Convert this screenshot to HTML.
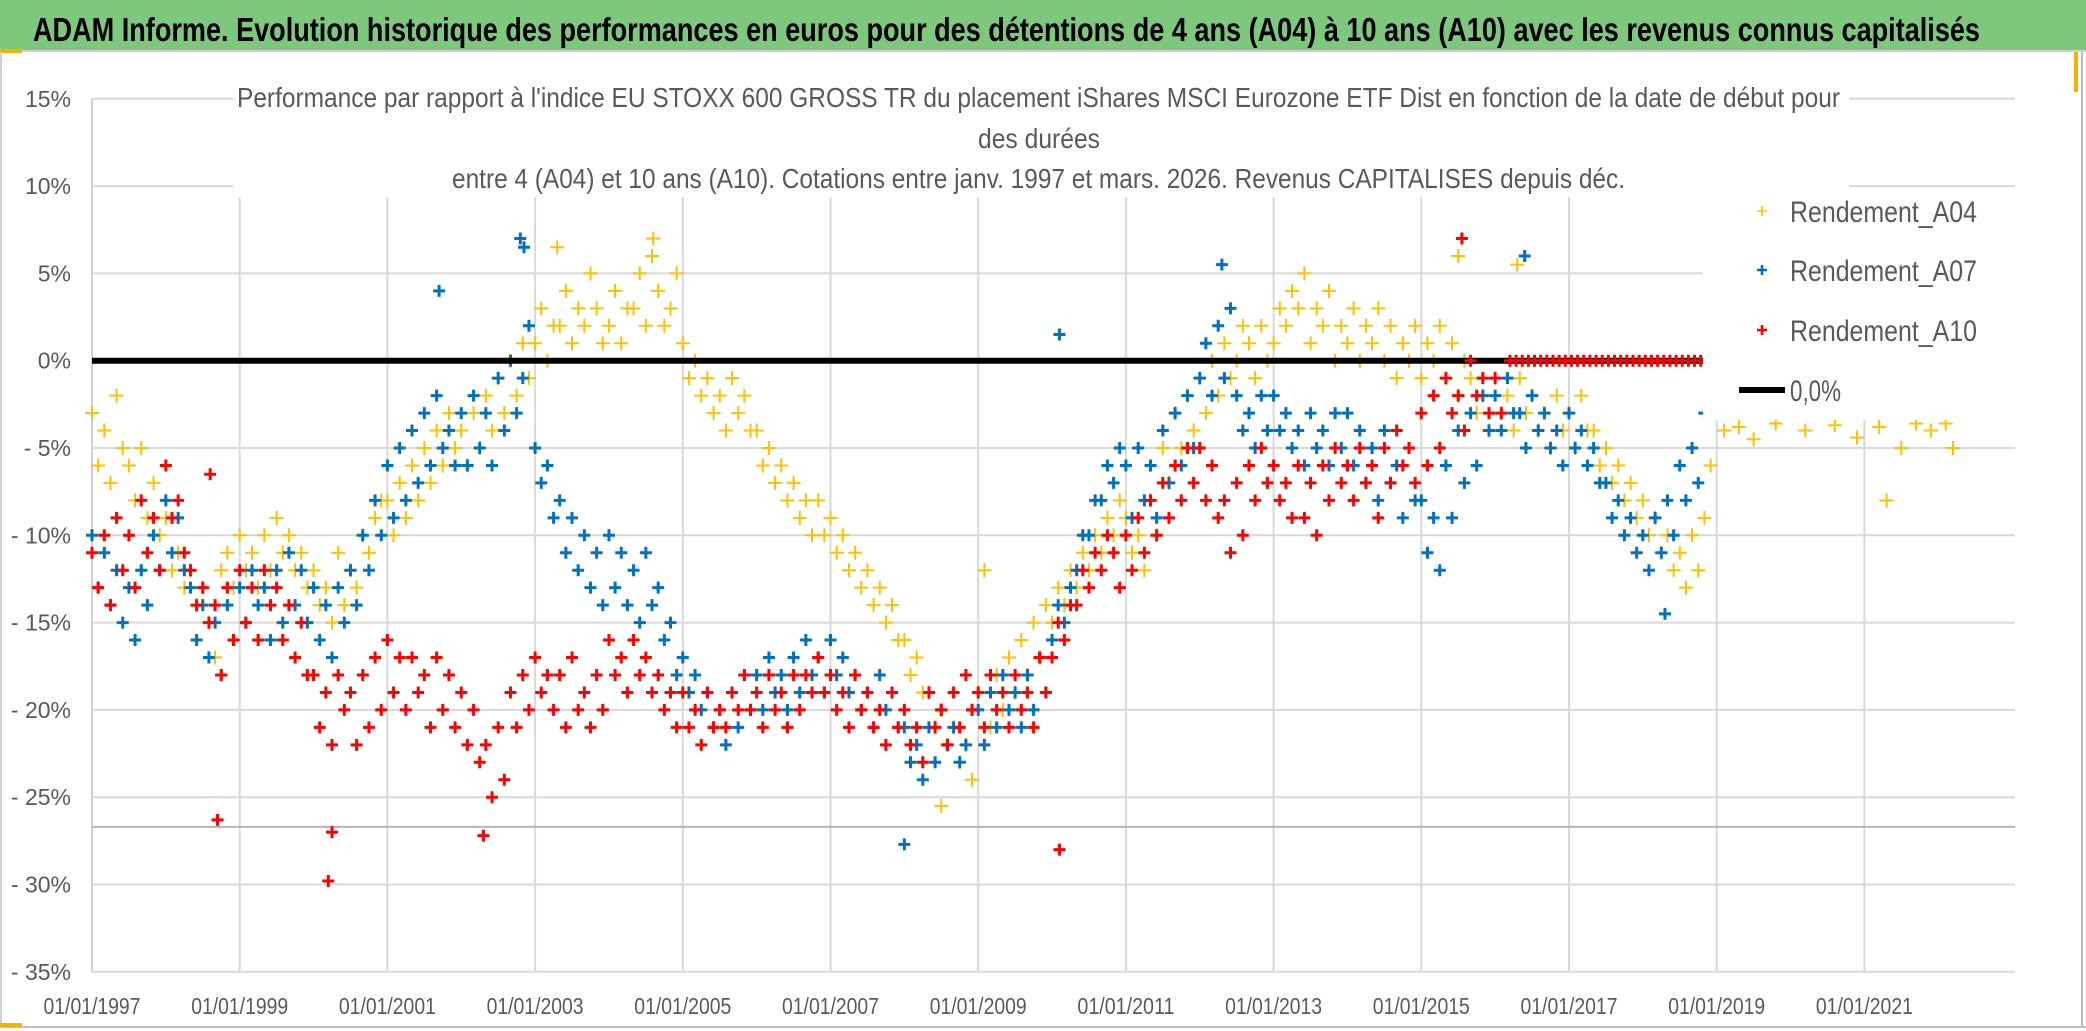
<!DOCTYPE html>
<html><head><meta charset="utf-8"><style>
html,body{margin:0;padding:0;background:#fff;}
svg{display:block;font-family:"Liberation Sans",sans-serif;}
</style></head><body>
<svg id="chart" width="2086" height="1031" viewBox="0 0 2086 1031" xmlns="http://www.w3.org/2000/svg">
<rect x="0" y="0" width="2086" height="1031" fill="#fff"/>
<rect x="0" y="0" width="2086" height="50" fill="#7dc87d"/>
<line x1="0" y1="51" x2="2086" y2="51" stroke="#d0d0d0" stroke-width="2"/>
<rect x="0" y="49" width="22" height="4" fill="#f0b400"/>
<rect x="2074" y="52" width="4" height="40" fill="#f0b400"/>
<line x1="2082" y1="52" x2="2082" y2="1028" stroke="#bdbdbd" stroke-width="2"/>
<line x1="0" y1="1027" x2="2086" y2="1027" stroke="#bdbdbd" stroke-width="2"/>
<line x1="1" y1="52" x2="1" y2="1028" stroke="#d0d0d0" stroke-width="2"/>
<rect x="0" y="1023" width="22" height="4" fill="#f0b400"/>
<text x="33" y="41" font-size="33" font-weight="bold" fill="#000" textLength="1947" lengthAdjust="spacingAndGlyphs">ADAM Informe. Evolution historique des performances en euros pour des détentions de 4 ans (A04) à 10 ans (A10) avec les revenus connus capitalisés</text>
<g id="grid"></g>
<g id="marks"></g>
<rect x="233" y="80" width="1616" height="117" fill="#fff"/>
<rect x="1703" y="197" width="330" height="223" fill="#fff"/>
<g fill="#595959" font-size="28">
<text x="237" y="107" textLength="1603" lengthAdjust="spacingAndGlyphs">Performance par rapport à l'indice EU STOXX 600 GROSS TR  du placement iShares MSCI Eurozone ETF Dist en fonction de la date de début pour</text>
<text x="1039" y="148" text-anchor="middle" textLength="122" lengthAdjust="spacingAndGlyphs">des durées</text>
<text x="452" y="188" textLength="1173" lengthAdjust="spacingAndGlyphs">entre 4 (A04) et 10 ans (A10). Cotations entre janv. 1997 et mars. 2026. Revenus CAPITALISES depuis déc.</text>
</g>
<g id="legend" fill="#595959" font-size="30"></g>
<g id="axes" fill="#595959" font-size="23"></g>
</svg>
<script>
const NS="http://www.w3.org/2000/svg";
const yTicks=[15,10,5,0,-5,-10,-15,-20,-25,-30,-35];
const yTickLabels=["15%","10%","5%","0%","- 5%","- 10%","- 15%","- 20%","- 25%","- 30%","- 35%"];
const xTickYears=[1997,1999,2001,2003,2005,2007,2009,2011,2013,2015,2017,2019,2021];
const xTickLabels=["01/01/1997","01/01/1999","01/01/2001","01/01/2003","01/01/2005","01/01/2007","01/01/2009","01/01/2011","01/01/2013","01/01/2015","01/01/2017","01/01/2019","01/01/2021"];
const refLineValue=-26.7;
const zeroLineValue=0;
const a04Start=1997;
const a04Monthly=[
-3,-6,-4,-7,-2,-5,-6,-8,-5,-9,-7,-10,
-9,-12,-11,-13,-12,-14,-13,-15,-17,-12,-11,-13,
-10,-12,-11,-13,-10,-12,-9,-11,-10,-12,-11,-13,
-12,-14,-13,-15,-11,-14,-12,-13,-10,-11,-9,-8,
-8,-10,-7,-9,-6,-8,-5,-7,-4,-6,-3,-5,
-4,-6,-3,-5,-2,-4,-1,-3,0,-2,1,-1,
1,3,0,2,2,4,1,3,2,5,3,1,
2,4,1,3,3,5,2,6,4,2,3,5,
1,-1,0,-2,-1,-3,-2,-4,-1,-3,-2,-4,
-4,-6,-5,-7,-6,-8,-7,-9,-8,-10,-8,-10,
-9,-11,-10,-12,-11,-13,-12,-14,-13,-15,-14,-16,
-16,-18,-17,-19,-19,-21,-20,-22,-21,-23,-22,-24,
-19,-12,-21,-18,-20,-17,-19,-16,-18,-15,-17,-14,
-15,-13,-14,-12,-13,-11,-12,-10,-11,-9,-10,-8,
-9,-11,-10,-12,-8,-10,-5,-7,-3,-5,-2,-4,
-1,-3,0,-2,1,-1,0,2,1,-1,2,0,
1,3,2,4,3,5,1,3,2,4,0,2,
1,3,0,2,1,3,0,2,-1,1,0,2,
-1,1,0,2,-1,1,-2,0,-1,-3,-2,-4,
-1,-3,-2,-4,-1,-3,-2,-4,-3,-5,-2,-4,
-3,-5,-2,-4,-4,-6,-5,-7,-6,-8,-7,-9,
-8,-10,-9,-11,-10,-12,-11,-13,-10,-12,-9,-6];
const a04TailDates=[2019.1,2019.3,2019.5,2019.8,2020.2,2020.6,2020.9,2021.2,2021.3,2021.5,2021.7,2021.9,2022.1,2022.2];
const a04TailValues=[-4,-3.8,-4.5,-3.6,-4,-3.7,-4.4,-3.8,-8,-5,-3.6,-4,-3.6,-5];
const a04OutDates=[2003.3,2004.6,2015.5,2016.3,2008.5];
const a04OutValues=[6.5,7,6,5.5,-25.5];
const a07Start=1997;
const a07Monthly=[
-10,-13,-11,-14,-12,-15,-13,-16,-12,-14,-10,-12,
-8,-11,-9,-12,-13,-16,-14,-17,-15,-18,-14,-16,
-13,-15,-12,-14,-13,-16,-12,-15,-11,-14,-12,-15,
-13,-16,-14,-17,-13,-15,-12,-14,-10,-12,-8,-10,
-6,-9,-5,-8,-4,-7,-3,-6,-2,-5,-4,-6,
-3,-6,-2,-5,-3,-6,-1,-4,0,-3,-1,2,
-5,-7,-6,-9,-8,-11,-9,-12,-10,-13,-11,-14,
-10,-13,-11,-14,-12,-15,-11,-14,-13,-16,-15,-18,
-17,-19,-18,-20,-19,-21,-20,-22,-19,-21,-18,-20,
-18,-20,-17,-19,-18,-20,-17,-19,-16,-18,-17,-19,
-16,-18,-17,-19,-18,-20,-19,-21,-18,-20,-19,-21,
-21,-23,-22,-24,-21,-23,-20,-22,-21,-23,-22,-20,
-20,-22,-19,-21,-18,-20,-19,-21,-18,-20,-17,-19,
-16,-14,-15,-13,-12,-10,-10,-8,-8,-6,-7,-5,
-6,-9,-5,-8,-6,-9,-4,-7,-3,-6,-2,-5,
-1,1,-2,2,-1,3,-2,-4,-3,-5,-2,-4,
-2,-4,-3,-5,-4,-6,-3,-5,-4,-6,-3,-5,
-3,-6,-4,-7,-5,-8,-4,-7,-6,-9,-5,-8,
-8,-11,-9,-12,-6,-9,-4,-7,-3,-6,-2,-4,
-2,-4,-1,-3,-3,-5,-2,-4,-3,-5,-4,-6,
-3,-5,-4,-6,-5,-7,-7,-9,-8,-10,-9,-11,
-10,-12,-9,-11,-8,-10,-6,-8,-5,-7,-3,-2];
const a07OutDates=[2002.8,2002.85,2001.7,2008.0,2012.3,2016.4,2010.1,2018.3];
const a07OutValues=[7,6.5,4,-27.7,5.5,6,1.5,-14.5];
const a10Start=1997;
const a10Monthly=[
-11,-13,-10,-14,-9,-12,-10,-13,-8,-11,-9,-12,
-6,-9,-8,-11,-12,-14,-13,-15,-14,-18,-13,-16,
-12,-15,-13,-16,-12,-14,-13,-16,-14,-17,-15,-18,
-18,-21,-19,-22,-18,-20,-19,-22,-18,-21,-17,-20,
-16,-19,-17,-20,-17,-19,-18,-21,-17,-20,-18,-21,
-19,-22,-20,-23,-22,-25,-21,-24,-19,-21,-18,-20,
-17,-19,-18,-20,-18,-21,-17,-20,-19,-21,-18,-20,
-16,-18,-17,-19,-16,-18,-17,-19,-18,-20,-19,-21,
-19,-21,-20,-22,-19,-21,-20,-21,-19,-20,-18,-20,
-19,-21,-18,-20,-19,-21,-18,-20,-18,-19,-17,-19,
-18,-20,-19,-21,-18,-20,-19,-21,-20,-22,-19,-21,
-20,-22,-21,-23,-19,-21,-20,-22,-19,-21,-18,-20,
-19,-21,-18,-20,-19,-21,-18,-20,-19,-21,-17,-19,
-17,-15,-16,-14,-14,-12,-13,-11,-12,-10,-11,-13,
-10,-12,-9,-11,-8,-10,-7,-9,-6,-8,-5,-7,
-5,-8,-6,-9,-8,-11,-7,-10,-6,-8,-5,-7,
-6,-8,-7,-9,-6,-9,-7,-10,-6,-8,-5,-7,
-6,-8,-5,-7,-6,-9,-5,-7,-4,-6,-5,-7,
-3,-6,-2,-5,-1,-3,-2,-4,0,-2,-1,-3,
-1,-3];
const a10FlatStart=2016.2;
const a10FlatMonthly=[0,0,0,0,0,0,0,0,0,0,0,0,0,0,0,0,0,0,0,0,0,0,0,0,0,0,0,0,0,0,0,0,0];
const a10OutDates=[1998.7,2000.2,2000.25,2002.3,2010.1,2015.55,1998.6,2023.0];
const a10OutValues=[-26.3,-29.8,-27,-27.2,-28,7,-6.5,0];

const X0=92,X1=2015,Y0=360.7,PX=17.46,YEARPX=73.85;
function xs(y){return X0+(y-1997)*YEARPX;}
function ys(v){return Y0-v*PX;}
const grid=document.getElementById('grid');
const axes=document.getElementById('axes');
const marks=document.getElementById('marks');
function mk(tag,attrs,parent){const e=document.createElementNS(NS,tag);for(const k in attrs)e.setAttribute(k,attrs[k]);parent.appendChild(e);return e;}

yTicks.forEach((t,i)=>{
  const l=mk('line',{x1:X0,x2:X1,y1:ys(t),y2:ys(t),stroke:'#d9d9d9','stroke-width':2},grid);
  
  
  const tx=mk('text',{x:71,y:ys(t)+8,'text-anchor':'end'},axes);
  
  
  tx.textContent=yTickLabels[i];
});
xTickYears.forEach((yr,i)=>{
  if(i>0){const l=mk('line',{x1:xs(yr),x2:xs(yr),y1:197,y2:ys(-35),stroke:'#d9d9d9','stroke-width':2},grid);
  
  }
  const tx=mk('text',{x:xs(yr),y:1014,'text-anchor':'middle',textLength:97,lengthAdjust:'spacingAndGlyphs'},axes);
  
  
  tx.textContent=xTickLabels[i];
});
const ax=mk('line',{x1:X0,x2:X0,y1:ys(15),y2:ys(-35),stroke:'#d0d0d0','stroke-width':2},grid);


const rl=mk('line',{x1:X0,x2:X1,y1:ys(refLineValue),y2:ys(refLineValue),stroke:'#b5b5b5','stroke-width':2},grid);



function plus(x,y,color,sz,sw,name){
  const p=mk('path',{d:`M${x-sz} ${y}H${x+sz}M${x} ${y-sz}V${y+sz}`,stroke:color,'stroke-width':sw,fill:'none'},marks);
  
  
}
const C04='#ffc000',C07='#0070c0',C10='#ff0000';
function drawMonthly(arr,start,color,sz,sw,name){arr.forEach((v,i)=>plus(xs(start+i/12),ys(v),color,sz,sw,name));}
function drawPairs(d,v,color,sz,sw,name){d.forEach((dt,i)=>plus(xs(dt),ys(v[i]),color,sz,sw,name));}

drawMonthly(a04Monthly,a04Start,C04,7,2,'point-a04');
drawPairs(a04TailDates,a04TailValues,C04,7,2,'point-a04');
drawPairs(a04OutDates,a04OutValues,C04,7,2,'point-a04');
drawMonthly(a07Monthly,a07Start,C07,6,3,'point-a07');
drawPairs(a07OutDates,a07OutValues,C07,6,3,'point-a07');
const zl=mk('line',{x1:X0,x2:1703,y1:ys(zeroLineValue),y2:ys(zeroLineValue),stroke:'#000','stroke-width':6},marks);


drawMonthly(a10Monthly,a10Start,C10,6,3,'point-a10');
drawMonthly(a10FlatMonthly,a10FlatStart,C10,6,3,'point-a10');
drawPairs(a10OutDates,a10OutValues,C10,6,3,'point-a10');

const legend=document.getElementById('legend');
const leg=[['Rendement_A04',C04,211],['Rendement_A07',C07,270],['Rendement_A10',C10,330]];
leg.forEach(([t,c,y],i)=>{
  const p=mk('path',{d:`M${1757} ${y}H${1767}M${1762} ${y-5}V${y+5}`,stroke:c,'stroke-width':i==0?1.6:2.6,fill:'none'},legend);
  
  
  const tx=mk('text',{x:1790,y:y+11,textLength:187,lengthAdjust:'spacingAndGlyphs'},legend);
  
  
  tx.textContent=t;
});
const ll=mk('line',{x1:1739,x2:1785,y1:390,y2:390,stroke:'#000','stroke-width':6},legend);


const lt=mk('text',{x:1790,y:401,textLength:51,lengthAdjust:'spacingAndGlyphs'},legend);


lt.textContent='0,0%';
</script>
</body></html>
